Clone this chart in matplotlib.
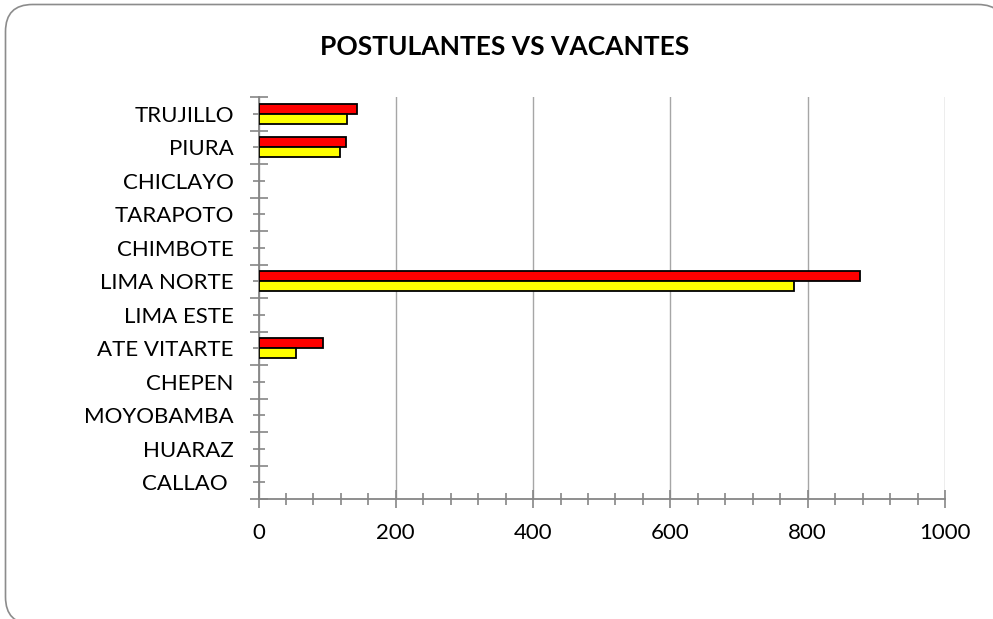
import matplotlib
matplotlib.use("Agg")
import matplotlib.pyplot as plt
from matplotlib.patches import FancyBboxPatch
from matplotlib.ticker import MultipleLocator, FixedLocator
import numpy as np

categories = ["TRUJILLO", "PIURA", "CHICLAYO", "TARAPOTO", "CHIMBOTE", "LIMA NORTE",
              "LIMA ESTE", "ATE VITARTE", "CHEPEN", "MOYOBAMBA", "HUARAZ", "CALLAO "]
postulantes = [144, 127, 0, 0, 0, 876, 0, 94, 0, 0, 0, 0]
vacantes = [129, 118, 0, 0, 0, 780, 0, 54, 0, 0, 0, 0]
x_ticks = [0, 200, 400, 600, 800, 1000]
title = "POSTULANTES VS VACANTES"

plt.rcParams['font.family'] = ['Lato', 'DejaVu Sans']

fig = plt.figure(figsize=(9.93, 6.19), dpi=100)
fig.patch.set_facecolor("white")
border = FancyBboxPatch((5.5/993, -5/619), 999.5/993, 619.5/619,
                        boxstyle="round,pad=0,rounding_size=0.0272",
                        transform=fig.transFigure, facecolor="white",
                        edgecolor="#8c8c8c", linewidth=1.2, mutation_aspect=993/619,
                        zorder=-10)
fig.patches.append(border)

ax = fig.add_axes([258.5/993, (619-499)/619, (945-258.5)/993, (499-97)/619])
ax.set_facecolor("none")
ax.set_zorder(1)
y = np.arange(len(categories))
ax.barh(y - 0.15, postulantes, height=0.3, color="#FF0000", edgecolor="black",
        linewidth=[1.3 if v > 0 else 0 for v in postulantes], zorder=3)
ax.barh(y + 0.15, vacantes, height=0.3, color="#FFFF00", edgecolor="black",
        linewidth=[1.3 if v > 0 else 0 for v in vacantes], zorder=3)

ax.set_xlim(0, 1000)
ax.set_ylim(len(categories) - 0.5, -0.5)
ax.set_xticks(x_ticks)
ax.set_xticklabels([str(v) for v in x_ticks], fontsize=16)
ax.xaxis.set_minor_locator(MultipleLocator(40))
ax.set_yticks(y)
ax.set_yticklabels(categories, fontsize=16)
ax.yaxis.set_minor_locator(FixedLocator(np.arange(-0.5, len(categories), 1)))

ax.grid(axis="x", color="#a6a6a6", linewidth=1, zorder=0)
for s in ["top", "right"]:
    ax.spines[s].set_visible(False)
for s in ["left", "bottom"]:
    ax.spines[s].set_color("#868686")
    ax.spines[s].set_linewidth(1.3)

ax.tick_params(axis="x", which="major", direction="inout", length=12.5, color="#868686", width=1.2, pad=11)
ax.tick_params(axis="x", which="minor", direction="inout", length=8.6, color="#868686", width=1.2)
ax.tick_params(axis="y", which="major", direction="inout", length=8.6, color="#868686", width=1.2, pad=13.5)
ax.tick_params(axis="y", which="minor", direction="inout", length=12.5, color="#868686", width=1.2)

fig.text(505/993, 1 - 47/619, title, ha="center", va="center", fontsize=19, fontweight="bold")

fig.savefig("out.png", dpi=100)
